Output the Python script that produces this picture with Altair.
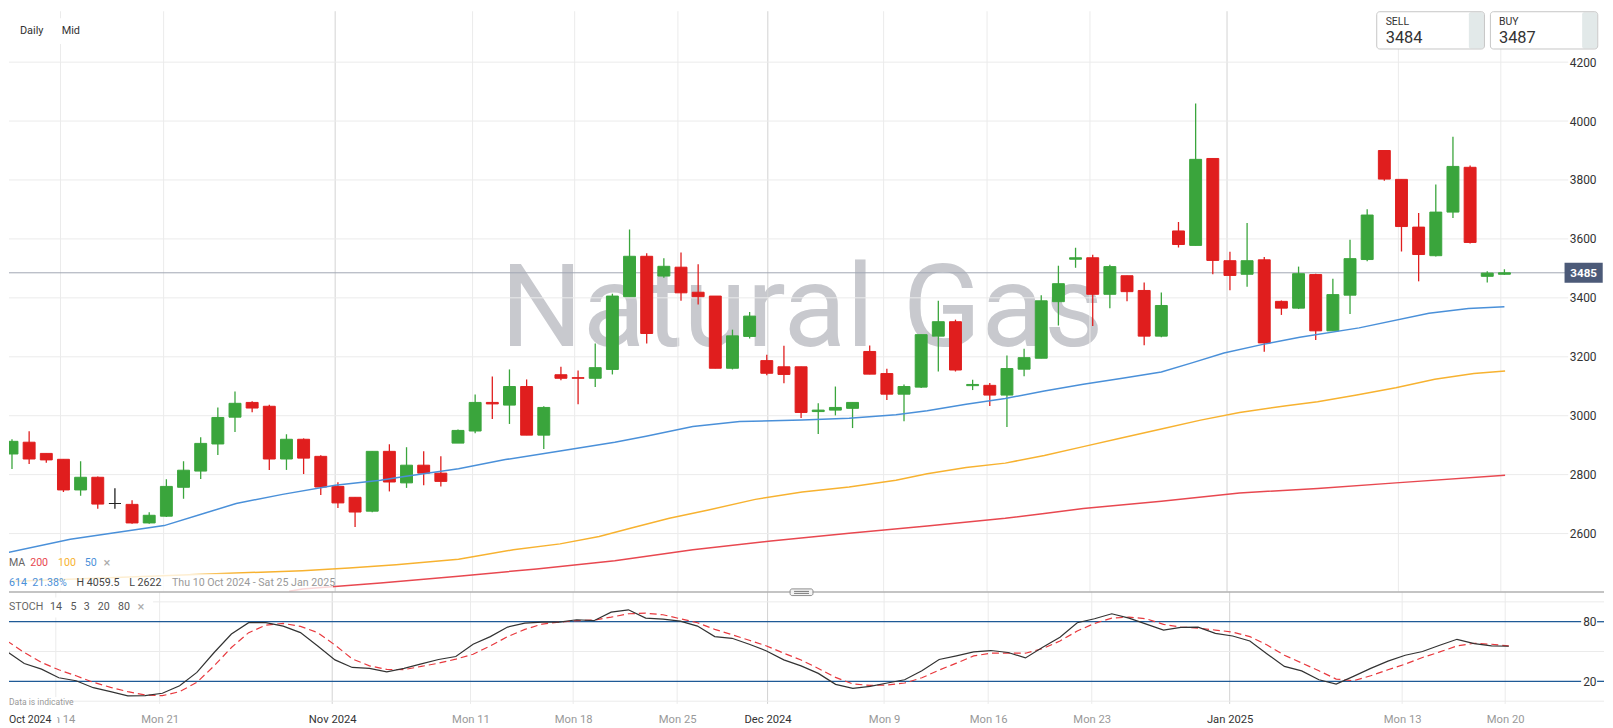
import altair as alt
import pandas as pd

FONT = "Roboto"
instrument = "Natural Gas"

# ---------------- data ----------------
opens = [2870, 2910, 2872, 2852, 2748, 2791, 2702, 2699, 2636, 2659,
         2757, 2812, 2904, 2995, 3045, 3032, 2853, 2920, 2862, 2760,
         2723, 2676, 2879, 2772, 2832, 2805, 2907, 2948, 3045, 3036,
         3099, 2934, 3139, 3129, 3127, 3157, 3404, 3541, 3474, 3504,
         3419, 3406, 3161, 3269, 3187, 3166, 3166, 3014, 3019, 3025,
         3218, 3143, 3073, 3097, 3270, 3319, 3102, 3103, 3070, 3158,
         3195, 3387, 3531, 3536, 3412, 3475, 3425, 3270, 3627, 3578,
         3873, 3526, 3480, 3529, 3388, 3365, 3479, 3288, 3409, 3530,
         3900, 3802, 3640, 3543, 3691, 3843, 3473, 3480]
highs = [2920, 2947, 2872, 2852, 2845, 2794, 2754, 2713, 2672, 2784,
         2845, 2927, 3028, 3082, 3049, 3037, 2937, 2923, 2866, 2774,
         2723, 2879, 2903, 2893, 2879, 2862, 2953, 3072, 3133, 3157,
         3123, 3032, 3166, 3153, 3245, 3414, 3632, 3551, 3534, 3554,
         3514, 3406, 3292, 3352, 3207, 3237, 3166, 3042, 3099, 3045,
         3238, 3159, 3106, 3275, 3390, 3326, 3122, 3111, 3204, 3227,
         3409, 3509, 3570, 3546, 3512, 3475, 3452, 3418, 3657, 4059.5,
         3873, 3556, 3654, 3539, 3391, 3506, 3482, 3465, 3597, 3701,
         3900, 3802, 3688, 3785, 3947, 3849, 3490, 3497]
lows = [2819, 2836, 2840, 2741, 2728, 2684, 2684, 2633, 2633, 2656,
        2718, 2785, 2867, 2945, 3012, 2816, 2816, 2802, 2731, 2687,
        2622, 2672, 2743, 2755, 2764, 2760, 2907, 2940, 2989, 2972,
        2934, 2887, 3120, 3039, 3097, 3140, 3404, 3245, 3468, 3390,
        3377, 3161, 3157, 3262, 3137, 3110, 2992, 2938, 3001, 2958,
        3141, 3053, 2981, 3094, 3150, 3150, 3087, 3033, 2962, 3134,
        3195, 3306, 3502, 3304, 3365, 3388, 3239, 3266, 3571, 3578,
        3480, 3426, 3438, 3217, 3342, 3362, 3257, 3288, 3345, 3524,
        3797, 3557, 3456, 3540, 3671, 3584, 3452, 3478]
closes = [2913, 2853, 2850, 2748, 2791, 2700, 2702, 2636, 2662, 2760,
          2815, 2906, 2994, 3042, 3026, 2853, 2920, 2856, 2758, 2704,
          2673, 2879, 2775, 2832, 2805, 2777, 2950, 3045, 3040, 3099,
          2934, 3028, 3127, 3127, 3163, 3406, 3541, 3279, 3507, 3417,
          3404, 3161, 3271, 3338, 3144, 3140, 3011, 3019, 3028, 3045,
          3141, 3073, 3099, 3275, 3319, 3155, 3106, 3070, 3160, 3197,
          3390, 3448, 3536, 3412, 3506, 3421, 3270, 3374, 3581, 3870,
          3527, 3476, 3526, 3247, 3365, 3482, 3288, 3411, 3533, 3681,
          3803, 3642, 3547, 3691, 3846, 3588, 3484, 3485]

ma50_idx = [-0.5, 3.4, 8.87, 11.17, 13.07, 15.77, 18.84, 21.48, 22.87, 26.03,
            28.76, 31.95, 35.14, 36.96, 39.69, 42.42, 46.06, 48.8, 51.53, 53.35,
            55.62, 57.9, 60.18, 62.45, 64.73, 67.0, 68.83, 70.65, 72.92, 75.07,
            78.53, 82.6, 84.9, 87.0]
ma50_val = [2532, 2581, 2627, 2668, 2702, 2733, 2764, 2781, 2794, 2820,
            2851, 2880, 2910, 2930, 2963, 2980, 2985, 2991, 3003, 3017,
            3039, 3058, 3084, 3107, 3127, 3148, 3180, 3213, 3242, 3266,
            3298, 3348, 3364, 3370]
ma100_idx = [-0.5, 13.07, 16.93, 19.65, 22.39, 26.03, 29.22, 31.95, 34.23, 36.05,
             38.32, 40.6, 43.33, 46.06, 48.8, 51.53, 53.35, 55.62, 57.9, 60.18,
             62.45, 64.73, 67.0, 69.29, 71.56, 74.29, 76.11, 78.39, 80.67, 82.94,
             85.22, 87.04]
ma100_val = [2437, 2466, 2474, 2483, 2494, 2513, 2545, 2565, 2590, 2618,
             2652, 2680, 2716, 2741, 2758, 2781, 2803, 2824, 2839, 2865,
             2895, 2925, 2955, 2985, 3011, 3034, 3047, 3070, 3095, 3124,
             3143, 3152]
ma200_idx = [16.16, 16.93, 21.48, 26.03, 30.58, 35.14, 39.69, 44.24, 48.8, 53.35,
             57.9, 60.18, 62.45, 67.0, 71.56, 76.11, 80.67, 87.04]
ma200_val = [2404, 2412, 2432, 2455, 2480, 2508, 2545, 2575, 2601, 2626,
             2652, 2668, 2685, 2710, 2738, 2753, 2772, 2798]

stoch_k = [50, 38, 32.3, 23.6, 20.6, 13.6, 9.6, 5.3, 5.6, 8,
           15.6, 29, 49, 67.6, 79, 79, 75.6, 69, 55.6, 41.6,
           34, 33, 29.5, 33, 37.6, 42, 45, 57.3, 65, 74.6,
           78.6, 79.6, 79.6, 82, 81, 89.6, 92, 83.6, 82.6, 80.6,
           75.6, 65, 63.3, 57.3, 50.6, 41.6, 35.6, 28, 17, 13,
           15, 18.3, 21.6, 30.6, 42, 45.6, 49.6, 51, 49, 43.6,
           54.3, 64.3, 79, 83, 88, 83.6, 77.6, 71.6, 74.3, 74.6,
           68.3, 65.6, 60.6, 47.6, 35, 30.5, 21.6, 17.3, 25, 33,
           40.3, 46.3, 50, 56.3, 62.3, 58, 55.6, 55.3]
stoch_d = [60.6, 49, 39, 31.6, 25.6, 19, 14, 9.6, 6.3, 5.6,
           9.6, 19, 35.6, 54, 69, 76.6, 78.3, 75.3, 69, 56.5,
           42.6, 35.6, 32, 31.8, 35, 38.3, 42.3, 47.3, 55.6, 65,
           72.3, 77.6, 79.6, 81, 81.6, 84.6, 88, 88.6, 87, 83,
           79, 72.3, 67, 61.3, 55.6, 48.3, 41.5, 33, 24, 17.3,
           16, 16.3, 18.3, 23.6, 31.3, 38.3, 45.6, 48.3, 48.3, 48.3,
           53, 60.6, 70.6, 78.3, 83.6, 84.6, 83, 77.3, 74.6, 73.6,
           71.6, 69.6, 65, 56.6, 46.3, 38.5, 30.6, 22.3, 20.6, 25.6,
           31.6, 37.3, 44, 49.6, 55.6, 58.3, 57.3, 55.6]

tick_idx = [2.83, 8.84, 18.84, 26.85, 32.8, 38.82, 44.06, 50.81, 56.84, 62.84, 70.83, 80.82, 86.79]
tick_labels = ["Mon 14", "Mon 21", "Nov 2024", "Mon 11", "Mon 18", "Mon 25", "Dec 2024",
               "Mon 9", "Mon 16", "Mon 23", "Jan 2025", "Mon 13", "Mon 20"]
first_month_label = "Oct 2024"
price_ticks = [2600, 2800, 3000, 3200, 3400, 3600, 3800, 4000, 4200]
stoch_levels = [20, 80]
stoch_grid = [0, 50, 100]
last_price = 3485
sell_price = 3484
buy_price = 3487
period_change = 614
period_change_pct = "21.38%"
date_range = "Thu 10 Oct 2024 - Sat 25 Jan 2025"

# ---------------- tables ----------------
n = len(opens)
candles = pd.DataFrame({"i": list(range(n)), "open": opens, "high": highs,
                        "low": lows, "close": closes})
candles["dir"] = ["up" if c > o else ("down" if c < o else "flat") for o, c in zip(opens, closes)]
ticks_df = pd.DataFrame({"t": tick_idx, "label": tick_labels})
ticks_df["kind"] = ["week" if l.startswith("Mon") else "month" for l in tick_labels]
stoch_df = pd.DataFrame({"i": list(range(n)), "k": stoch_k, "d": stoch_d})
price_df = pd.DataFrame({"p": [last_price], "label": [str(last_price)]})
one = pd.DataFrame({"k": [0]})

W, H1, H2 = 1605, 584, 113
xs = alt.Scale(domain=[0.1151, 92.516], nice=False, zero=False)
ys = alt.Scale(domain=[2403.0, 4372.7], nice=False, zero=False)
ys2 = alt.Scale(domain=[-2.7, 110.3], nice=False, zero=False)

yaxis = alt.Axis(orient="right", values=price_ticks, format="d", title=None, grid=False,
                 domain=False, ticks=False, tickSize=0, labelAlign="right",
                 labelBaseline="middle", labelPadding=0, offset=-8, labelFontSize=12,
                 labelColor="#333333", labelFont=FONT, zindex=0)
yaxis2 = alt.Axis(orient="right", values=stoch_levels, format="d", title=None, grid=False,
                  domain=False, ticks=False, tickSize=0, labelAlign="right",
                  labelBaseline="middle", labelPadding=0, offset=-8, labelFontSize=12,
                  labelColor="#333333", labelFont=FONT, zindex=0)
label_expr = " : ".join(f"datum.value == {t} ? '{l}'" for t, l in zip(tick_idx, tick_labels)) + " : ''"
month_test = " || ".join(f"datum.value == {t}" for t, l in zip(tick_idx, tick_labels) if not l.startswith("Mon"))
xaxis2 = alt.Axis(values=tick_idx, labelExpr=label_expr, title=None, grid=False, domain=False,
                  ticks=False, tickSize=0, labelPadding=10, labelFontSize=11.3, labelFont=FONT,
                  labelOverlap=False, labelFlush=False, labelBound=False, zindex=0,
                  labelColor={"condition": {"test": month_test, "value": "#333333"}, "value": "#999999"})


def XM(f):
    return alt.X(f"{f}:Q", scale=xs, axis=None)


def YM(f):
    return alt.Y(f"{f}:Q", scale=ys, axis=yaxis)


def XS(f):
    return alt.X(f"{f}:Q", scale=xs, axis=xaxis2)


def YS(f):
    return alt.Y(f"{f}:Q", scale=ys2, axis=yaxis2)


def txt(s, x, y, size=10.7, color="#666666", align="left", weight="normal", clip=False):
    return alt.Chart(one).mark_text(text=s, fontSize=size, color=color, align=align,
                                    baseline="middle", fontWeight=weight, font=FONT,
                                    clip=clip).encode(x=alt.value(x), y=alt.value(y))


def box(x, x2, y, y2, fill="white", opacity=1.0, stroke=None, r=0, fill_opacity=1.0):
    kw = dict(fill=fill, opacity=opacity, cornerRadius=r, fillOpacity=fill_opacity)
    if stroke:
        kw.update(stroke=stroke, strokeWidth=1)
    return alt.Chart(one).mark_rect(**kw).encode(x=alt.value(x), x2=alt.value(x2),
                                                  y=alt.value(y), y2=alt.value(y2))


def vgrid(xfunc):
    wk = alt.Chart(ticks_df[ticks_df.kind == "week"]).mark_rule(color="#ebebeb", strokeWidth=1).encode(x=xfunc("t"))
    mo = alt.Chart(ticks_df[ticks_df.kind == "month"]).mark_rule(color="#d3d3d3", strokeWidth=1).encode(x=xfunc("t"))
    return [wk, mo]


# ---------------- main panel ----------------
cscale = alt.Scale(domain=["up", "down", "flat"], range=["#3aa53c", "#e01e1e", "#222222"])
watermark = alt.Chart(one).mark_text(text=instrument, fontSize=116, font=FONT, color="#c8c9ce",
                                     align="center", baseline="alphabetic").encode(
    x=alt.value(798), y=alt.value(336.5))
hgrid = alt.Chart(pd.DataFrame({"v": price_ticks})).mark_rule(color="#ebebeb", strokeWidth=1).encode(
    y=YM("v"), x=alt.value(0), x2=alt.value(W - 36))
price_line = alt.Chart(price_df).mark_rule(color="#a0a6b2", strokeWidth=1).encode(
    y=YM("p"), x=alt.value(0), x2=alt.value(1566))
wicks = alt.Chart(candles).mark_rule(strokeWidth=1.3, clip=True).encode(
    x=XM("i"), y=YM("low"), y2="high", color=alt.Color("dir:N", scale=cscale, legend=None))
bodies = alt.Chart(candles).mark_bar(size=12, strokeWidth=1, clip=True, orient="vertical").encode(
    x=XM("i"), y=YM("open"), y2="close",
    color=alt.Color("dir:N", scale=cscale, legend=None),
    stroke=alt.Stroke("dir:N", scale=cscale, legend=None))


def ma_layer(ix, vals, color):
    df = pd.DataFrame({"i": ix, "v": vals})
    return alt.Chart(df).mark_line(color=color, strokeWidth=1.5, clip=True).encode(x=XM("i"), y=YM("v"))


ma200 = ma_layer(ma200_idx, ma200_val, "#e84850")
ma100 = ma_layer(ma100_idx, ma100_val, "#f7b230")
ma50 = ma_layer(ma50_idx, ma50_val, "#4a90d9")

badge = alt.Chart(price_df).mark_point(shape="M-1,-0.52H1V0.52H-1Z", size=1475, filled=True,
                                       color="#4c5a78", opacity=1).encode(y=YM("p"), x=alt.value(1584.5))
badge_txt = alt.Chart(price_df).mark_text(color="white", fontSize=11.7, fontWeight="bold", font=FONT,
                                          align="center", baseline="middle").encode(
    y=YM("p"), x=alt.value(1584.5), text="label:N")

legend_main = [
    box(0, 107, 546, 565, opacity=0.78),
    box(0, 326, 566, 584, opacity=0.78),
    txt("MA", 0, 555.7, color="#666666"),
    txt("200", 21.3, 555.7, color="#e84850"),
    txt("100", 49.3, 555.7, color="#f7b230"),
    txt("50", 76.3, 555.7, color="#4a90d9"),
    txt("\u00d7", 95, 555.7, size=13, color="#aaaaaa"),
    txt(str(period_change), 0, 575.7, color="#4a90d9"),
    txt(period_change_pct, 23.5, 575.7, color="#4a90d9"),
    txt(f"H {max(highs)}", 68, 575.7, color="#444444"),
    txt(f"L {min(lows)}", 121, 575.7, color="#444444"),
    txt(date_range, 164, 575.7, color="#999999"),
]

top_ui = [
    box(4, 77, 7, 33),
    txt("Daily", 11, 20.3, size=11, color="#333333"),
    txt("Mid", 53, 20.3, size=11, color="#333333"),
    box(1376.3, 1484.7, 0.5, 38, fill="white", r=3),
    box(1469, 1484.2, 1, 37.5, fill="#e2e9e9", r=2),
    box(1376.3, 1484.7, 0.5, 38, fill="white", stroke="#c6c6c6", r=3, fill_opacity=0),
    txt("SELL", 1385.3, 10.5, size=10.5, color="#333333"),
    txt(str(sell_price), 1385.3, 26.5, size=16.5, color="#333333"),
    box(1490.7, 1598.7, 0.5, 38, fill="white", r=3),
    box(1583, 1598.2, 1, 37.5, fill="#e2e9e9", r=2),
    box(1490.7, 1598.7, 0.5, 38, fill="white", stroke="#c6c6c6", r=3, fill_opacity=0),
    txt("BUY", 1499.3, 10.5, size=10.5, color="#333333"),
    txt(str(buy_price), 1499.3, 26.5, size=16.5, color="#333333"),
]

main = alt.layer(
    watermark, *vgrid(XM), hgrid, price_line, wicks, bodies, ma200, ma100, ma50,
    *legend_main, *top_ui, badge, badge_txt,
).properties(width=W, height=H1)

# ---------------- stochastic panel ----------------
sgrid = alt.Chart(pd.DataFrame({"v": stoch_grid})).mark_rule(color="#ebebeb", strokeWidth=1).encode(y=YS("v"))
lev_df = pd.DataFrame({"v": stoch_levels})
lev1 = alt.Chart(lev_df).mark_rule(color="#1f5a96", strokeWidth=1.3).encode(
    y=YS("v"), x=alt.value(0), x2=alt.value(1582))
lev2 = alt.Chart(lev_df).mark_rule(color="#1f5a96", strokeWidth=1.3).encode(
    y=YS("v"), x=alt.value(1598), x2=alt.value(W))
d_line = alt.Chart(stoch_df).mark_line(color="#e8393e", strokeWidth=1.2, strokeDash=[7, 4], clip=True).encode(
    x=XS("i"), y=YS("d"))
k_line = alt.Chart(stoch_df).mark_line(color="#333333", strokeWidth=1.2, clip=True).encode(
    x=XS("i"), y=YS("k"))

separator = alt.Chart(one).mark_rule(color="#b0b0b0", strokeWidth=1.5).encode(
    x=alt.value(0), x2=alt.value(W), y=alt.value(0.3))
handle = [
    box(786, 809, -2.7, 4, fill="#f3f3f3", stroke="#8c8c8c", r=2),
    alt.Chart(one).mark_rule(color="#777777", strokeWidth=1).encode(x=alt.value(790), x2=alt.value(805), y=alt.value(-0.2)),
    alt.Chart(one).mark_rule(color="#777777", strokeWidth=1).encode(x=alt.value(790), x2=alt.value(805), y=alt.value(1.8)),
]
legend_stoch = [
    box(0, 145, 6, 26),
    txt("STOCH", 0, 16, color="#666666"),
    txt("14", 41.3, 16, color="#555555"),
    txt("5", 62, 16, color="#555555"),
    txt("3", 75.3, 16, color="#555555"),
    txt("20", 89.3, 16, color="#555555"),
    txt("80", 109.7, 16, color="#555555"),
    txt("\u00d7", 129.3, 16, size=13, color="#aaaaaa"),
    box(0, 57, 106, 118),
    txt("Data is indicative", 0, 111.5, size=8.6, color="#999999"),
    box(0, 48.5, H2 + 6, H2 + 22),
    txt(first_month_label, 0, H2 + 16.3, size=10.6, color="#333333"),
]

stoch = alt.layer(
    *vgrid(XS), sgrid, lev1, lev2, d_line, k_line, separator, *handle, *legend_stoch,
).properties(width=W, height=H2)

chart = alt.vconcat(main, stoch, spacing=0, bounds="flush").properties(padding=0)
chart = chart.configure(font=FONT).configure_view(stroke=None)
chart.save("out.html", embed_options={"renderer": "svg", "actions": False})
